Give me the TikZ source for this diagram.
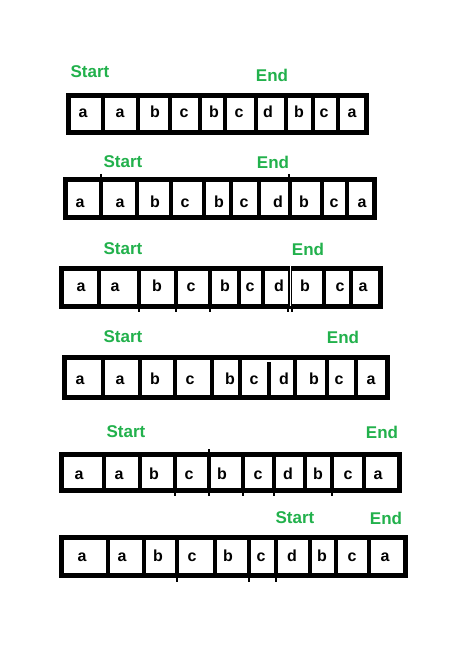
\documentclass[tikz,border=0pt]{standalone}
\usepackage{fontspec}
\setmainfont{Liberation Sans}
\definecolor{pgreen}{RGB}{34,177,76}
\tikzset{
  frame/.style={draw=black, line width=5pt},
  divider/.style={draw=black, line width=3.8pt},
  tick/.style={draw=black, line width=1.6pt},
  cell/.style={anchor=base, inner sep=0pt, font=\fontsize{16}{16}\selectfont\bfseries},
  lab/.style={inner sep=0pt, text=pgreen, font=\fontsize{17}{17}\selectfont\bfseries}
}
\newcommand\arrrow[7]{% #1 id, #2 x0, #3 x1, #4 ytop, #5 ybot, #6 dividers, #7 baseline
  \draw[frame] (#2,#4) rectangle (#3,#5);
  \foreach \d in {#6} \draw[divider] (\d,#4) -- (\d,#5);
}
\newcommand\arrcells[3]{% #1 id, #2 baseline, #3 x/letter list
  \foreach \x/\l [count=\i] in {#3} \node[cell] (#1c\i) at (\x,#2) {\l};
}
\begin{document}
\begin{tikzpicture}[x=1pt,y=-1pt]
\path[use as bounding box, fill=white] (0,0) rectangle (448,647);

% Row 1
\node[lab] (s1) at (90,72) {Start};
\node[lab] (e1) at (272,75) {End};
\arrrow{r1}{68.5}{366.5}{95.5}{132.5}{103,138,170,200,225,256,286,313,338}{}
\arrcells{r1}{118}{83/a,120/a,155/b,184/c,214/b,239/c,268/d,299/b,324/c,352/a}

% Row 2
\node[lab] (s2) at (123,162) {Start};
\node[lab] (e2) at (273,162) {End};
\arrrow{r2}{65.5}{374.5}{179.5}{217.5}{101,137,171,204,231,259,290,322,347}{}
\draw[tick] (101,174) -- (101,178);
\draw[tick] (289,174) -- (289,178);
\arrcells{r2}{207}{80/a,120/a,155/b,185/c,219/b,244/c,278/d,304/b,334/c,362/a}

% Row 3
\node[lab] (s3) at (123,249) {Start};
\node[lab] (e3) at (308,249) {End};
\arrrow{r3}{61.5}{380.5}{268.5}{306.5}{99,139,176,210,239,263,290,324,351}{}
\draw[draw=white, line width=0.8pt] (290,266) -- (290,306);
\foreach \t in {139,176,210,288,292} \draw[tick] (\t,308) -- (\t,312);
\arrcells{r3}{291}{81/a,115/a,157/b,191/c,225/b,250/c,279/d,305/b,340/c,363/a}

% Row 4
\node[lab] (s4) at (123,337) {Start};
\node[lab] (e4) at (343,337) {End};
\draw[frame] (64.5,357.5) rectangle (387.5,397.5);
\foreach \d in {103,140,175,212,240,295,327,356} \draw[divider] (\d,357) -- (\d,398);
\draw[divider] (269,362) -- (269,398);
\arrcells{r4}{384}{80/a,120/a,155/b,190/c,230/b,254/c,284/d,314/b,339/c,371/a}

% Row 5
\node[lab] (s5) at (126,432) {Start};
\node[lab] (e5) at (382,432) {End};
\arrrow{r5}{61.5}{399.5}{454.5}{490.5}{104,140,175,209,243,274,305,332,364}{}
\draw[tick] (209,449) -- (209,453);
\foreach \t in {175,209,243,274,332} \draw[tick] (\t,492) -- (\t,496);
\arrcells{r5}{479}{79/a,119/a,154/b,189/c,222/b,258/c,288/d,318/b,348/c,378/a}

% Row 6
\node[lab] (s6) at (295,518) {Start};
\node[lab] (e6) at (386,518) {End};
\arrrow{r6}{61.5}{405.5}{537.5}{575.5}{108,144,177,215,249,276,310,336,369}{}
\foreach \t in {177,249,276} \draw[tick] (\t,577) -- (\t,582);
\arrcells{r6}{561}{82/a,122/a,158/b,192/c,228/b,261/c,292/d,322/b,352/c,385/a}
\end{tikzpicture}
\end{document}
